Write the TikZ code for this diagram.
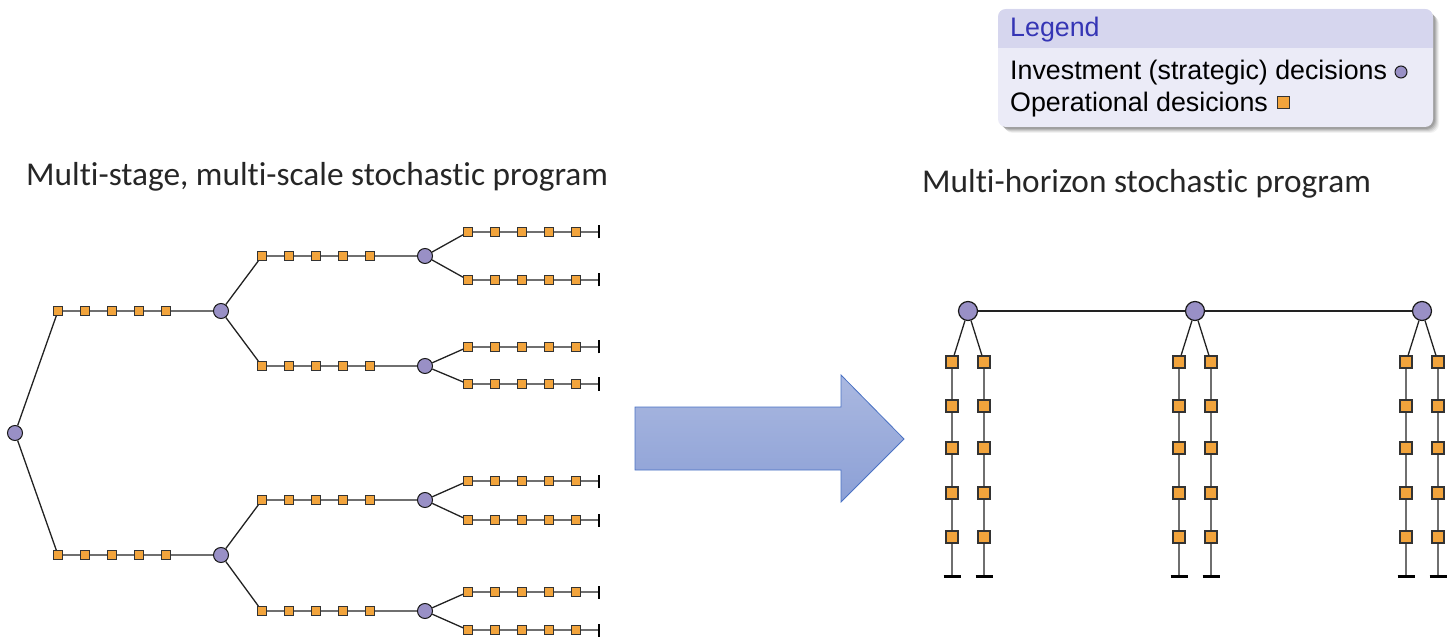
\documentclass[tikz,border=0pt]{standalone}
\usepackage{fontspec}
\setmainfont[Ligatures=NoCommon]{Carlito}
\newfontfamily\legfont{Liberation Sans}
\definecolor{sqorange}{HTML}{F2A43C}
\definecolor{invpurple}{HTML}{9990C6}
\definecolor{linecol}{HTML}{222222}
\definecolor{arrtop}{HTML}{AAB8E0}
\definecolor{arrbot}{HTML}{8CA0D6}
\definecolor{arrborder}{HTML}{4A72C4}
\definecolor{legtitlebg}{HTML}{D6D6EE}
\definecolor{legbodybg}{HTML}{EBEBF7}
\definecolor{legtitlefg}{HTML}{3535B5}
\tikzset{
  edge/.style={draw=linecol, line width=1.3pt},
  tick/.style={draw=black, line width=1.6pt},
  bar/.style={draw=black, line width=3pt},
  sq/.style={rectangle, draw=black!80, fill=sqorange, line width=1pt, minimum size=9pt, inner sep=0pt},
  bsq/.style={sq, minimum size=12pt, line width=1.2pt},
  inv/.style={circle, draw=black!90, fill=invpurple, line width=1pt, minimum size=15pt, inner sep=0pt},
  binv/.style={inv, minimum size=19pt, line width=1.2pt},
  title/.style={font=\fontsize{33.3}{39}\selectfont, text=black!85, inner sep=0pt},
  legtext/.style={font=\legfont\fontsize{26.8}{30}\selectfont, inner sep=0pt, anchor=base west},
}
\begin{document}
\begin{tikzpicture}[x=1pt,y=-1pt]
\useasboundingbox (0,0) rectangle (1449,644);

% ---------- titles
\node[title, anchor=base west] (ltitle) at (26,186) {Multi-stage, multi-scale stochastic program};
\node[title, anchor=base west] (rtitle) at (922,193) {Multi-horizon stochastic program};

% ---------- legend
\foreach \o/\op in {6/0.05,5/0.07,4/0.09,3/0.11,2/0.12}{
  \fill[black, opacity=\op, rounded corners=9pt] ({998+\o},{9+\o}) rectangle ({1433+\o},{127+\o});
}
\fill[legbodybg, rounded corners=8pt] (998,9) rectangle (1433,127);
\begin{scope}
  \clip[rounded corners=8pt] (998,9) rectangle (1433,127);
  \fill[legtitlebg] (998,9) rectangle (1433,48);
\end{scope}
\node[legtext, text=legtitlefg] (legtitle) at (1010,37) {Legend};
\node[legtext] (leginv) at (1010,80) {Investment (strategic) decisions};
\node[legtext] (legop) at (1010,112) {Operational desicions};
\node[inv, minimum size=12pt] (leginvmark) at (1401,72) {};
\node[sq, minimum size=12pt] (legopmark) at (1283,103) {};

% ---------- left tree
\node[inv] (r) at (15,433) {};
\foreach \p/\y in {A/311,B/555}{
  \foreach \i in {1,...,5}{
    \node[sq] (\p\i) at ({58+27*(\i-1)},\y) {};
  }
  \node[inv] (\p) at (221,\y) {};
  \draw[edge] (r) -- (\p1) -- (\p2) -- (\p3) -- (\p4) -- (\p5) -- (\p);
}
\foreach \p/\q/\y in {A/a/256,A/b/366,B/a/500,B/b/611}{
  \foreach \i in {1,...,5}{
    \node[sq] (\p\q\i) at ({262+27*(\i-1)},\y) {};
  }
  \node[inv] (\p\q) at (425,\y) {};
  \draw[edge] (\p) -- (\p\q1) -- (\p\q2) -- (\p\q3) -- (\p\q4) -- (\p\q5) -- (\p\q);
}
\foreach \p/\q/\y in {Aa/1/232,Aa/2/280,Ab/1/347,Ab/2/384,Ba/1/481,Ba/2/520,Bb/1/592,Bb/2/630}{
  \foreach \i in {1,...,5}{
    \node[sq] (\p-\q-\i) at ({468+27*(\i-1)},\y) {};
  }
  \coordinate (\p-\q-e) at (599,\y);
  \draw[edge] (\p) -- (\p-\q-1) -- (\p-\q-2) -- (\p-\q-3) -- (\p-\q-4) -- (\p-\q-5) -- (\p-\q-e);
  \draw[tick] ([yshift=-6.5pt]\p-\q-e) -- ([yshift=6.5pt]\p-\q-e);
}

% ---------- big arrow
\draw[arrborder, line width=0.8pt, top color=arrtop, bottom color=arrbot]
  (635,407) -- (841,407) -- (841,375) -- (904,439) -- (841,502) -- (841,470) -- (635,470) -- cycle;

% ---------- right tree
\foreach \h/\x in {1/968,2/1195,3/1422}{
  \node[binv] (H\h) at (\x,311) {};
}
\draw[edge] (H1) -- (H2) -- (H3);
\foreach \h/\x in {1/968,2/1195,3/1422}{
  \foreach \c/\dx in {a/-16,b/16}{
    \foreach \j/\yy in {1/362,2/406,3/448,4/493,5/537}{
      \node[bsq] (H\h\c\j) at ({\x+\dx},\yy) {};
    }
    \coordinate (H\h\c e) at ({\x+\dx},576);
    \draw[edge] (H\h) -- (H\h\c1) -- (H\h\c2) -- (H\h\c3) -- (H\h\c4) -- (H\h\c5) -- (H\h\c e);
    \draw[bar] ([xshift=-8.5pt]H\h\c e) -- ([xshift=8.5pt]H\h\c e);
  }
}
\end{tikzpicture}
\end{document}
